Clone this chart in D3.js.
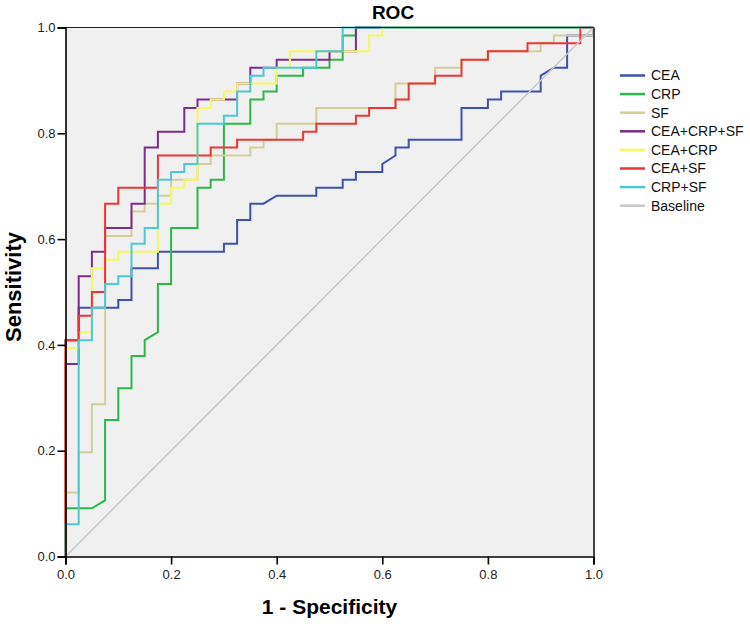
<!DOCTYPE html>
<html>
<head>
<meta charset="utf-8">
<script src="https://cdn.jsdelivr.net/npm/d3@7"></script>
<style>
  html, body { margin: 0; padding: 0; background: #ffffff; }
  svg { display: block; font-family: "Liberation Sans", Arial, sans-serif; }
</style>
</head>
<body>
<svg id="chart" width="750" height="624"></svg>
<script>
// ---- data (1 - specificity, sensitivity) vertices of each ROC curve ----
const seriesNames = ["CEA", "CRP", "SF", "CEA+CRP+SF", "CEA+CRP", "CEA+SF", "CRP+SF", "Baseline"];

const ceaFpr = [0,0,0.025,0.025,0.1,0.1,0.125,0.125,0.175,0.175,0.3,0.3,0.325,0.325,0.35,0.35,0.375,0.4,0.475,0.475,0.525,0.525,0.55,0.55,0.6,0.6,0.625,0.625,0.65,0.65,0.75,0.75,0.8,0.8,0.825,0.825,0.9,0.9,0.925,0.95,0.95,1,1];
const ceaTpr = [0,0.409,0.409,0.470,0.470,0.485,0.485,0.545,0.545,0.576,0.576,0.591,0.591,0.636,0.636,0.667,0.667,0.682,0.682,0.697,0.697,0.712,0.712,0.727,0.727,0.742,0.758,0.773,0.773,0.788,0.788,0.848,0.848,0.864,0.864,0.879,0.879,0.909,0.924,0.924,0.985,0.985,1];

const crpFpr = [0,0,0.05,0.075,0.075,0.1,0.1,0.125,0.125,0.15,0.15,0.175,0.175,0.2,0.2,0.25,0.25,0.275,0.275,0.3,0.3,0.35,0.35,0.375,0.375,0.4,0.4,0.45,0.45,0.5,0.5,0.525,0.525,0.55,0.55,1];
const crpTpr = [0,0.091,0.091,0.106,0.258,0.258,0.318,0.318,0.379,0.379,0.409,0.424,0.515,0.515,0.621,0.621,0.697,0.697,0.712,0.712,0.818,0.818,0.864,0.864,0.879,0.879,0.909,0.909,0.924,0.924,0.939,0.939,0.985,0.985,1,1];

const sfFpr = [0,0,0.025,0.025,0.05,0.05,0.075,0.075,0.125,0.125,0.15,0.15,0.175,0.175,0.2,0.2,0.25,0.25,0.275,0.275,0.35,0.35,0.375,0.375,0.4,0.4,0.475,0.475,0.625,0.625,0.7,0.7,0.75,0.75,0.8,0.8,0.9,0.9,0.925,0.925,1,1];
const sfTpr = [0,0.121,0.121,0.197,0.197,0.288,0.288,0.606,0.606,0.652,0.652,0.667,0.667,0.682,0.682,0.712,0.712,0.742,0.742,0.758,0.758,0.773,0.773,0.788,0.788,0.818,0.818,0.848,0.848,0.894,0.894,0.924,0.924,0.939,0.939,0.955,0.955,0.970,0.970,0.985,0.985,1];

const allFpr = [0,0,0.025,0.025,0.05,0.05,0.075,0.075,0.125,0.125,0.15,0.15,0.175,0.175,0.225,0.225,0.25,0.25,0.325,0.325,0.35,0.35,0.4,0.4,0.5,0.5,0.55,0.55,1];
const allTpr = [0,0.364,0.364,0.530,0.530,0.576,0.576,0.621,0.621,0.667,0.667,0.773,0.773,0.803,0.803,0.848,0.848,0.864,0.864,0.894,0.894,0.924,0.924,0.939,0.939,0.955,0.955,1,1];

const ceaCrpFpr = [0,0,0.025,0.025,0.05,0.05,0.075,0.075,0.1,0.1,0.175,0.175,0.2,0.2,0.225,0.225,0.25,0.25,0.275,0.275,0.3,0.3,0.325,0.325,0.4,0.4,0.425,0.425,0.575,0.575,0.6,0.6,1];
const ceaCrpTpr = [0,0.394,0.394,0.424,0.424,0.545,0.545,0.561,0.561,0.576,0.576,0.667,0.667,0.697,0.697,0.712,0.712,0.848,0.848,0.864,0.864,0.879,0.879,0.894,0.894,0.924,0.924,0.955,0.955,0.985,0.985,1,1];

const ceaSfFpr = [0,0,0.025,0.025,0.05,0.05,0.075,0.075,0.1,0.1,0.175,0.175,0.275,0.275,0.325,0.325,0.45,0.45,0.475,0.475,0.55,0.55,0.575,0.575,0.625,0.625,0.65,0.65,0.7,0.7,0.75,0.75,0.8,0.8,0.875,0.875,0.975,0.975,1];
const ceaSfTpr = [0,0.409,0.409,0.455,0.455,0.5,0.5,0.667,0.667,0.697,0.697,0.758,0.758,0.773,0.773,0.788,0.788,0.803,0.803,0.818,0.818,0.833,0.833,0.848,0.848,0.864,0.864,0.894,0.894,0.909,0.909,0.939,0.939,0.955,0.955,0.970,0.970,1,1];

const crpSfFpr = [0,0,0.025,0.025,0.05,0.05,0.075,0.075,0.1,0.1,0.125,0.125,0.15,0.15,0.175,0.175,0.2,0.2,0.225,0.225,0.25,0.25,0.3,0.3,0.325,0.325,0.35,0.35,0.375,0.375,0.475,0.475,0.525,0.525,1];
const crpSfTpr = [0,0.061,0.061,0.409,0.409,0.470,0.470,0.515,0.515,0.530,0.530,0.591,0.591,0.621,0.621,0.712,0.712,0.727,0.727,0.742,0.742,0.818,0.818,0.833,0.833,0.879,0.879,0.909,0.909,0.924,0.924,0.955,0.955,1,1];

const baselineFpr = [0, 1];
const baselineTpr = [0, 1];

const xTickValues = [0, 0.2, 0.4, 0.6, 0.8, 1.0];
const yTickValues = [0, 0.2, 0.4, 0.6, 0.8, 1.0];

const seriesColors = ["#3d52b0", "#2bb84a", "#d4cd98", "#7b2d8b", "#f7f760", "#f03434", "#4cc8d2", "#c8c8c8"];

// ---- layout ----
const svg = d3.select("#chart");
const L = 65.5, R = 593.5, T = 27.5, B = 556.5;

const x = d3.scaleLinear().domain([0, 1]).range([L, R]);
const y = d3.scaleLinear().domain([0, 1]).range([B, T]);

// plot background
svg.append("rect").attr("x", L).attr("y", T).attr("width", R - L).attr("height", B - T)
  .attr("fill", "#f0f0f0");

const fprs = [ceaFpr, crpFpr, sfFpr, allFpr, ceaCrpFpr, ceaSfFpr, crpSfFpr, baselineFpr];
const tprs = [ceaTpr, crpTpr, sfTpr, allTpr, ceaCrpTpr, ceaSfTpr, crpSfTpr, baselineTpr];

const line = d3.line().x(d => x(d[0])).y(d => y(d[1]));

const plot = svg.append("g");
seriesNames.forEach((name, i) => {
  const pts = fprs[i].map((f, j) => [f, tprs[i][j]]);
  plot.append("path")
    .datum(pts)
    .attr("d", line)
    .attr("fill", "none")
    .attr("stroke", seriesColors[i])
    .attr("stroke-width", name === "Baseline" ? 1.5 : 2)
    .attr("stroke-linejoin", "miter");
});

// frame: top & right
svg.append("line").attr("x1", L).attr("x2", R).attr("y1", T).attr("y2", T)
  .attr("stroke", "#222").attr("stroke-width", 1.2);
svg.append("line").attr("x1", R + 0.5).attr("x2", R + 0.5).attr("y1", T).attr("y2", B)
  .attr("stroke", "#444").attr("stroke-width", 2);

// axes
const fmt = d3.format(".1f");
const xAxis = svg.append("g").attr("transform", `translate(0,${B})`)
  .call(d3.axisBottom(x).tickValues(xTickValues).tickFormat(fmt).tickSize(8).tickPadding(5));
const yAxis = svg.append("g").attr("transform", `translate(${L},0)`)
  .call(d3.axisLeft(y).tickValues(yTickValues).tickFormat(fmt).tickSize(8).tickPadding(2));

[xAxis, yAxis].forEach(g => {
  g.select(".domain").attr("stroke", "#000").attr("stroke-width", 1.6);
  g.selectAll(".tick line").attr("stroke", "#000").attr("stroke-width", 1.6);
  g.selectAll(".tick text").attr("fill", "#222").style("font-size", "13px")
    .style("font-family", "'Liberation Sans', Arial, sans-serif");
});

// title
svg.append("text").attr("x", 393).attr("y", 19).attr("text-anchor", "middle")
  .style("font-size", "19px").style("font-weight", "bold").attr("fill", "#000")
  .text("ROC");

// axis titles
svg.append("text").attr("x", (L + R) / 2).attr("y", 614).attr("text-anchor", "middle")
  .style("font-size", "21px").style("font-weight", "bold").attr("fill", "#000")
  .text("1 - Specificity");
svg.append("text").attr("transform", `translate(21,287) rotate(-90)`)
  .attr("text-anchor", "middle")
  .style("font-size", "22px").style("font-weight", "bold").attr("fill", "#000")
  .text("Sensitivity");

// legend
const legend = svg.append("g");
seriesNames.forEach((name, i) => {
  const cy = 75.5 + i * 18.6;
  legend.append("line").attr("x1", 620).attr("x2", 645).attr("y1", cy).attr("y2", cy)
    .attr("stroke", seriesColors[i]).attr("stroke-width", 2.5);
  legend.append("text").attr("x", 651).attr("y", cy).attr("dy", "0.35em")
    .style("font-size", "14px").attr("fill", "#111").text(name);
});
</script>
</body>
</html>
